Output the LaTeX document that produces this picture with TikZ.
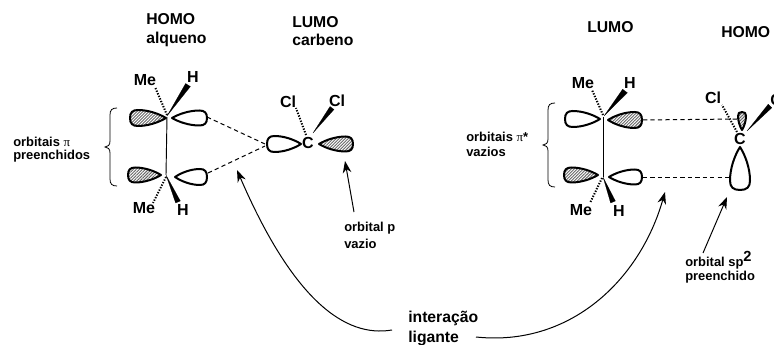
\documentclass[tikz,border=0pt]{standalone}
\usepackage{fontspec}
\setmainfont{Liberation Sans}
\newfontfamily\symf{Liberation Serif}
\usetikzlibrary{arrows.meta,patterns.meta}
\tikzset{
  x=0.75pt,y=-0.75pt,
  lobe/.style={draw=black,line width=1.5pt,line join=round,fill=white},
  shaded/.style={pattern={Lines[angle=45,distance=1.6pt,line width=0.7pt]},pattern color=black!60},
  big/.style={font=\fontsize{11.8}{13}\selectfont\bfseries,inner sep=0pt},
  small/.style={font=\fontsize{9.7}{11}\selectfont\bfseries,inner sep=0pt},
  atom/.style={font=\fontsize{12}{13}\selectfont\bfseries,inner sep=0pt},
  bond/.style={line width=0.7pt},
  wedgeb/.style={fill=black,draw=black,line width=0.1pt},
  hashb/.style={line width=1.5pt,dash pattern=on 1pt off 1.1pt},
  orbline/.style={line width=0.75pt,dash pattern=on 3.2pt off 2.4pt},
  pointer/.style={line width=0.75pt,-{Stealth[length=9pt,width=6.5pt]}},
  bracel/.style={line width=0.6pt}
}
% tip x, tip y, angle, length, half width, style
\newcommand{\orb}[6]{\draw[lobe,#6,shift={(#1,#2)},rotate=#3]
  (0,0) .. controls ({0.2*#4},{0.55*#5}) and ({0.5*#4},{#5}) .. ({0.78*#4},{#5})
  .. controls ({0.93*#4},{#5}) and ({#4},{0.7*#5}) .. ({#4},0)
  .. controls ({#4},{-0.7*#5}) and ({0.93*#4},{-#5}) .. ({0.78*#4},{-#5})
  .. controls ({0.5*#4},{-#5}) and ({0.2*#4},{-0.55*#5}) .. cycle;}
% narrow end x,y ; wide end x,y ; half width offset x,y
\newcommand{\wdg}[6]{\fill[wedgeb] (#1,#2) -- ({#3+#5},{#4+#6}) -- ({#3-#5},{#4-#6}) -- cycle;}
\newcommand{\brc}[4]{% x tip, x stem, y top, y bottom
  \draw[bracel] ({#2+7},#3) .. controls ({#2+2},#3) and (#2,{#3+2}) .. (#2,{#3+7})
   -- (#2,{(#3+#4)/2-6}) .. controls (#2,{(#3+#4)/2-2}) and ({#2-2},{(#3+#4)/2}) .. (#1,{(#3+#4)/2})
   .. controls ({#2-2},{(#3+#4)/2}) and (#2,{(#3+#4)/2+2}) .. (#2,{(#3+#4)/2+6})
   -- (#2,{#4-7}) .. controls (#2,{#4-2}) and ({#2+2},#4) .. ({#2+7},#4);}
\begin{document}
\begin{tikzpicture}
\useasboundingbox (0,0) rectangle (774,345);
% titles
\node[big,anchor=west] (t1) at (146,19) {HOMO};
\node[big,anchor=west] (t2) at (146,39) {alqueno};
\node[big,anchor=west] (t3) at (292,22) {LUMO};
\node[big,anchor=west] (t4) at (292,40) {carbeno};
\node[big,anchor=west] (t5) at (587,27) {LUMO};
\node[big,anchor=west] (t6) at (721,32) {HOMO};
% left alkene
\draw[bond] (167,117) -- (166,175);
\orb{166}{118}{180}{36}{8}{shaded}
\orb{172}{118}{0}{35}{7.5}{}
\orb{161}{175}{180}{33}{7.5}{shaded}
\orb{175}{177}{0}{32}{8}{}
\draw[hashb] (167,115) -- (155,87);
\draw[hashb] (166,177) -- (153,203);
\wdg{167}{116}{188}{85}{2.4}{1.5}
\wdg{166}{175}{178}{202}{2.4}{-1}
\node[atom] (me1) at (145,80) {Me};
\node[atom] (h1) at (193,77) {H};
\node[atom] (me2) at (144,208) {Me};
\node[atom] (h2) at (183,210) {H};
\brc{105}{110}{108}{186}
\node[small,anchor=west] (l1) at (13,142) {orbitais {\symf\mdseries π}};
\node[small,anchor=west] (l2) at (13,156) {preenchidos};
% left carbene
\orb{301}{144}{180}{34}{8}{}
\orb{319}{144}{0}{34}{7.5}{shaded}
\node[atom] (c1) at (308,143) {C};
\node[atom] (cl1) at (288,102) {Cl};
\node[atom] (cl2) at (337,101) {Cl};
\draw[hashb] (306,135) -- (296,108);
\wdg{313}{133}{332}{108}{2}{1.5}
\coordinate (a1) at (207,117);
\coordinate (a2) at (208,173);
\coordinate (a3) at (265,144);
\coordinate (a4) at (265,146);
\draw[orbline] (a1) -- (a3);
\draw[orbline] (a2) -- (a4);
\coordinate (p1) at (354,212);
\coordinate (p2) at (345,161);
\draw[pointer] (p1) -- (p2);
\node[small,anchor=west] (l3) at (344,228) {orbital p};
\node[small,anchor=west] (l4) at (344,244) {vazio};
% right alkene
\draw[bond] (603,117) -- (603,177);
\orb{600}{119}{180}{35}{8}{}
\orb{608}{120}{0}{34}{8}{shaded}
\orb{598}{175}{180}{34}{7.5}{shaded}
\orb{609}{177}{0}{33}{7.5}{}
\draw[hashb] (603,115) -- (592,90);
\draw[hashb] (602,178) -- (590,203);
\wdg{604}{116}{625}{91}{2.4}{1.8}
\wdg{603}{177}{613}{202}{2.4}{-1}
\node[atom] (me3) at (583,83) {Me};
\node[atom] (h3) at (630,83) {H};
\node[atom] (me4) at (581,210) {Me};
\node[atom] (h4) at (619,211) {H};
\brc{543}{548}{103}{187}
\node[small,anchor=west] (l5) at (466,137) {orbitais {\symf\mdseries π}*};
\node[small,anchor=west] (l6) at (466,152) {vazios};
% right carbene
\draw[hashb] (737,132) -- (722,105);
\wdg{747}{131}{770}{106}{1.8}{1.8}
\orb{742}{130}{90}{18}{4}{shaded}
\orb{740}{147}{270}{43}{10}{}
\node[atom] (c2) at (740,139) {C};
\node[atom] (cl3) at (713,98) {Cl};
\node[atom,anchor=west] (cl4) at (770,100) {Cl};
\coordinate (b1) at (643,120);
\coordinate (b2) at (737,119);
\coordinate (b3) at (643,178);
\coordinate (b4) at (729,178);
\draw[orbline] (b1) -- (b2);
\draw[orbline] (b3) -- (b4);
\coordinate (q1) at (703,253);
\coordinate (q2) at (727,197);
\draw[pointer] (q1) -- (q2);
\node[small,anchor=west] (l7) at (685,263) {orbital sp\smash{\raisebox{3.5pt}{\fontsize{11}{11}\selectfont 2}}};
\node[small,anchor=west] (l8) at (685,277) {preenchido};
% bottom
\node[big,anchor=west] (l9) at (408,318) {interação};
\node[big,anchor=west] (l10) at (408,338) {ligante};
\coordinate (r1) at (392,330);
\coordinate (r2) at (237,170);
\coordinate (s1) at (476,337);
\coordinate (s2) at (665,192);
\draw[pointer] (r1) .. controls (345,338) and (293,300) .. (r2);
\draw[pointer] (s1) .. controls (570,347) and (640,280) .. (s2);
\end{tikzpicture}
\end{document}
